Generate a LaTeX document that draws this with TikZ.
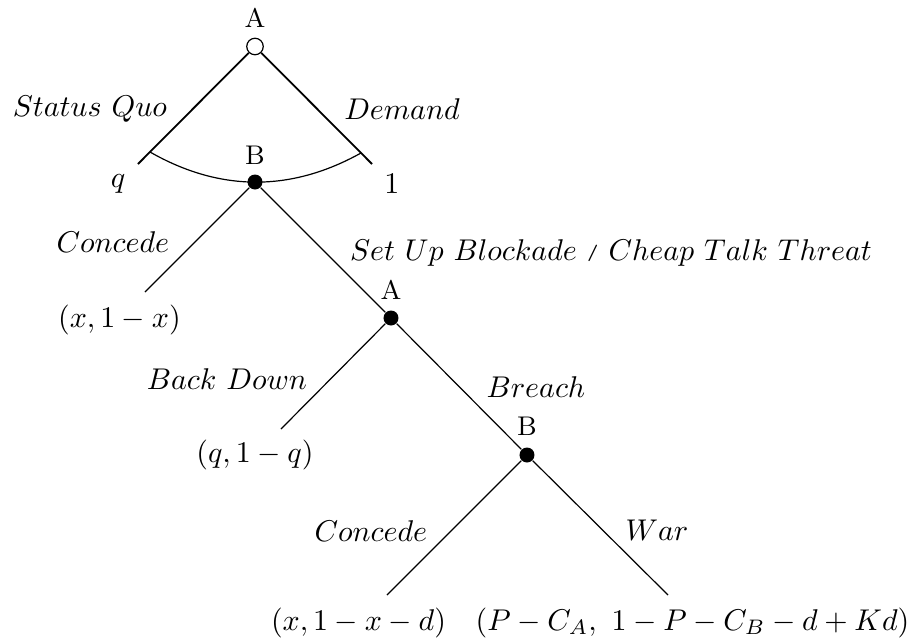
\documentclass[tikz,border=0pt]{standalone}
\begin{document}
\begin{tikzpicture}[x=0.33333pt,y=-0.33333pt,
  thickedge/.style={line width=0.6pt},
  thinedge/.style={line width=0.4pt},
  opennode/.style={circle,draw,line width=0.4pt,fill=white,inner sep=0pt,minimum size=5.5pt},
  solidnode/.style={circle,fill=black,inner sep=0pt,minimum size=5pt},
  player/.style={font=\fontsize{9}{11}\selectfont},
  act/.style={inner sep=0pt}]
\useasboundingbox (0,0) rectangle (915,638);
% decision nodes
\node[opennode]  (rootA) at (255,46.5) {};
\node[solidnode] (B1)    at (255,182) {};
\node[solidnode] (A2)    at (391,318) {};
\node[solidnode] (B3)    at (527,455) {};
% end points
\coordinate (sqL)  at (138,164);
\coordinate (demR) at (372,164);
\coordinate (c1)   at (145,292);
\coordinate (bd)   at (281,429);
\coordinate (c3)   at (387,595);
\coordinate (war)  at (668,595);
\coordinate (arcL) at (150,152);
\coordinate (arcR) at (361,153);
% edges
\draw[thickedge] (rootA) -- (sqL);
\draw[thickedge] (rootA) -- (demR);
\draw[thinedge] (arcL) .. controls (220,192) and (291,192) .. (arcR);
\draw[thinedge] (B1) -- (c1);
\draw[thinedge] (B1) -- (A2);
\draw[thinedge] (A2) -- (bd);
\draw[thinedge] (A2) -- (B3);
\draw[thinedge] (B3) -- (c3);
\draw[thinedge] (B3) -- (war);
% player labels
\node[player] (lA1) at (255,17.5) {A};
\node[player] (lB1) at (255,155)  {B};
\node[player] (lA2) at (391,290)  {A};
\node[player] (lB3) at (527,426)  {B};
% action labels
\node[act] (tSQ)  at (90,109)   {$Status\ Quo$};
\node[act] (tDem) at (402,109)  {$Demand$};
\node[act] (tq)   at (118,183.5) {$q$};
\node[act] (t1)   at (392,183.5) {$1$};
\node[act] (tC1)  at (113,242.5) {$Concede$};
\node[act] (tSet) at (611,252.5) {$Set\ Up\ Blockade$ \raisebox{1pt}{\fontsize{5.5}{6}\selectfont\bfseries /} $Cheap\ Talk\ Threat$};
\node[act] (tBD)  at (227,379.5) {$Back\ Down$};
\node[act] (tBr)  at (536,387.5) {$Breach$};
\node[act] (tC3)  at (371,531)  {$Concede$};
\node[act] (tWar) at (657,530)  {$War$};
% payoffs
\node[act] (p1) at (119.5,319.5) {$(x,1-x)$};
\node[act] (p2) at (255,455)     {$(q,1-q)$};
\node[act] (p3) at (358.5,622.5) {$(x,1-x-d)$};
\node[act,anchor=east] (p4) at (910,622.5) {$(P-C_A,\ 1-P-C_B-d+Kd)$};
\end{tikzpicture}
\end{document}
